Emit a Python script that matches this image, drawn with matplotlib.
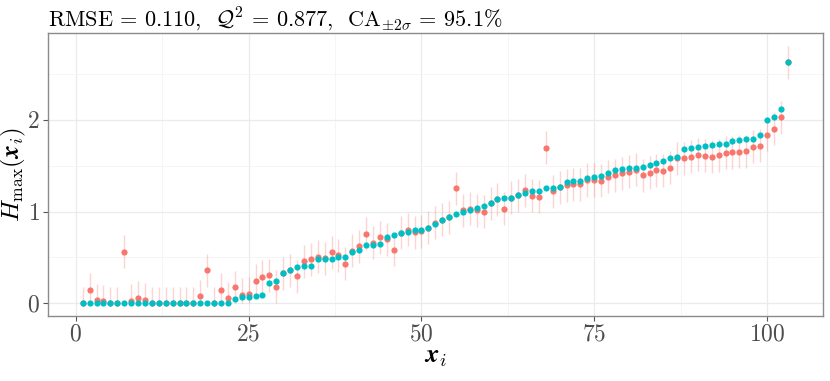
import matplotlib
matplotlib.use("Agg")
import matplotlib.pyplot as plt
import numpy as np

plt.rcParams["font.family"] = "serif"
plt.rcParams["font.serif"] = ["cmr10", "DejaVu Serif"]
plt.rcParams["mathtext.fontset"] = "cm"
plt.rcParams["axes.formatter.use_mathtext"] = True

# true values (sorted) and predictions
h_true = [
    0, 0, 0, 0, 0, 0, 0, 0, 0, 0,
    0, 0, 0, 0, 0, 0, 0, 0, 0, 0,
    0, 0, 0.05, 0.065, 0.07, 0.08, 0.095, 0.225, 0.245, 0.335,
    0.36, 0.40, 0.405, 0.41, 0.48, 0.485, 0.485, 0.50, 0.51, 0.555,
    0.58, 0.635, 0.64, 0.645, 0.72, 0.743, 0.77, 0.78, 0.795, 0.805,
    0.823, 0.863, 0.91, 0.94, 0.973, 0.995, 1.02, 1.035, 1.06, 1.09,
    1.137, 1.144, 1.151, 1.177, 1.20, 1.22, 1.228, 1.253, 1.257, 1.268,
    1.326, 1.33, 1.337, 1.362, 1.38, 1.388, 1.417, 1.45, 1.468, 1.475,
    1.479, 1.49, 1.508, 1.533, 1.555, 1.585, 1.596, 1.68, 1.69, 1.709,
    1.718, 1.727, 1.734, 1.741, 1.77, 1.785, 1.789, 1.792, 1.84, 1.999,
    2.029, 2.124, 2.627,
]
h_pred = [
    0.0, 0.15, 0.036, 0.025, 0.0, 0.0, 0.56, 0.03, 0.06, 0.04,
    0.0, 0.0, 0.0, 0.0, 0.0, 0.0, 0.0, 0.08, 0.36, 0.0,
    0.15, 0.055, 0.175, 0.095, 0.105, 0.245, 0.29, 0.305, 0.18, 0.33,
    0.36, 0.295, 0.46, 0.48, 0.51, 0.49, 0.555, 0.525, 0.43, 0.575,
    0.62, 0.76, 0.66, 0.72, 0.70, 0.587, 0.77, 0.805, 0.776, 0.787,
    0.823, 0.88, 0.91, 0.94, 1.253, 1.016, 1.03, 1.013, 1.0, 1.09,
    1.137, 1.031, 1.151, 1.177, 1.231, 1.173, 1.162, 1.697, 1.22, 1.268,
    1.29, 1.301, 1.301, 1.345, 1.345, 1.337, 1.38, 1.395, 1.417, 1.435,
    1.457, 1.395, 1.424, 1.45, 1.446, 1.479, 1.581, 1.581, 1.596, 1.621,
    1.607, 1.60, 1.617, 1.643, 1.65, 1.654, 1.657, 1.709, 1.716, 1.84,
    1.902, 2.029, 2.63,
]
two_sigma = 0.18

RED = "#F8766D"
TEAL = "#00BFC4"

x = np.arange(1, len(h_true) + 1)
pred = np.array(h_pred)
lo = np.clip(pred - two_sigma, 0, None)
hi = pred + two_sigma

fig = plt.figure(figsize=(8.3, 3.81), dpi=100)
ax = fig.add_axes([47.5 / 830, 1 - 316 / 381, (823 - 47.5) / 830, (316 - 33) / 381])

ax.vlines(x, lo, hi, color=RED, alpha=0.3, lw=1.0, zorder=2)
ax.scatter(x, pred, s=20, color=RED, lw=0, zorder=3)
ax.scatter(x, h_true, s=20, color=TEAL, lw=0, zorder=4)

ax.set_xlim(-4.1, 108.1)
ax.set_ylim(-0.138, 2.948)
ax.set_xticks([0, 25, 50, 75, 100])
ax.set_yticks([0, 1, 2])
ax.set_xticks([12.5, 37.5, 62.5, 87.5], minor=True)
ax.set_yticks([0.5, 1.5, 2.5], minor=True)
ax.grid(which="major", color="#ebebeb", lw=0.9, zorder=0)
ax.grid(which="minor", color="#f4f4f4", lw=0.6, zorder=0)
ax.set_axisbelow(True)
ax.tick_params(which="minor", length=0)
ax.tick_params(which="major", length=3.5, width=0.8, color="#555555",
               labelsize=17, labelcolor="#4d4d4d", pad=2)
for s in ax.spines.values():
    s.set_color("#8a8a8a")
    s.set_linewidth(1.0)

ax.set_xlabel(r"$\boldsymbol{x}_i$", fontsize=19, labelpad=0)
ax.set_ylabel(r"$H_{\max}(\boldsymbol{x}_i)$", fontsize=18, labelpad=-1)
ax.set_title(r"RMSE = 0.110,  $\mathcal{Q}^2$ = 0.877,  CA$_{\pm 2\sigma}$ = 95.1$\%$",
             fontsize=16, loc="left", pad=5)

fig.savefig("out.png", dpi=100)
